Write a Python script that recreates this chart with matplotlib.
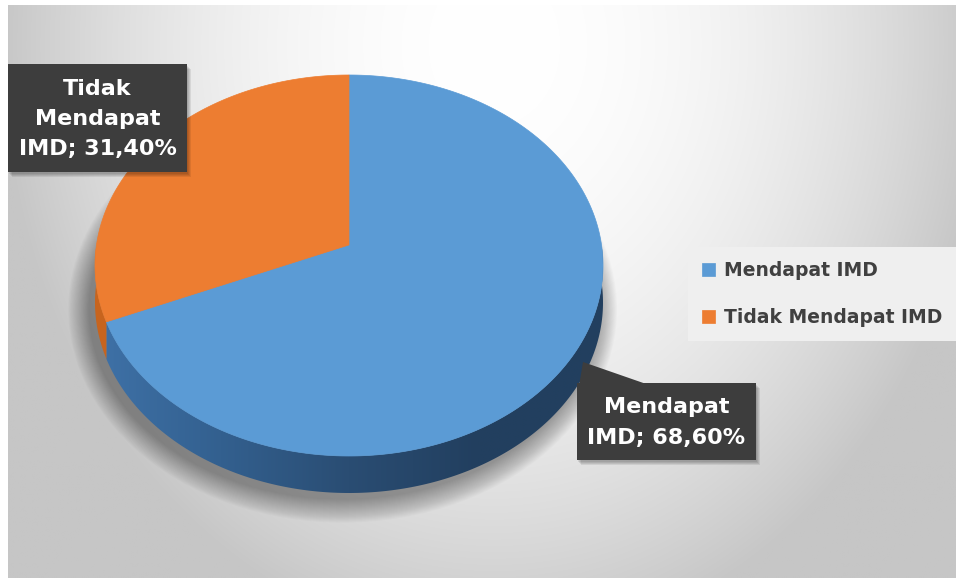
import numpy as np
import matplotlib
matplotlib.use('Agg')
import matplotlib.pyplot as plt
from matplotlib.patches import Polygon, Rectangle, Ellipse
from matplotlib.colors import LinearSegmentedColormap

# ---------------- data ----------------
categories = ['Mendapat IMD', 'Tidak Mendapat IMD']
values = [68.6, 31.4]
label_texts = ['Mendapat\nIMD; 68,60%', 'Tidak\nMendapat\nIMD; 31,40%']
top_colors = ['#5b9bd5', '#ed7d31']
side_colors = [['#3f72a8', '#33608f', '#2a4d73', '#223f5f', '#22405f'],
               ['#c8651f', '#b55a1c']]

# ---------------- figure ----------------
W, H = 956, 578
fig = plt.figure(figsize=(W / 100, H / 100), dpi=100, facecolor='white')

# background gradient
bg = fig.add_axes([0, 0, 1, 1])
yy, xx = np.mgrid[0:H, 0:W]
rr = ((xx - 490) / 490.0) ** 2 + ((yy - 40) / 600.0) ** 2
g = np.clip(255 - 55 * np.clip(rr, 0, 1.2), 198, 255) / 255
img = np.dstack([g, g, g])
bg.imshow(img, extent=[8, W, H, 5], aspect='auto', zorder=0, interpolation='bilinear')
bg.set_xlim(0, W)
bg.set_ylim(H, 0)
bg.axis('off')

# pie axes: unit ellipse mapped to pixels
cx, cy, rx, ry = 349, 265.5, 254, 190.5
xl = (-1.2, 1.2)
yl = (-1.5, 1.2)
left_px = cx + xl[0] * rx
width_px = (xl[1] - xl[0]) * rx
top_px = cy - yl[1] * ry
height_px = (yl[1] - yl[0]) * ry
ax = fig.add_axes([left_px / W, 1 - (top_px + height_px) / H, width_px / W, height_px / H])
ax.patch.set_visible(False)
d = 37 / ry

# perspective projection of the pie disc
k = 0.108
c = np.sqrt(1 - k * k)


def proj(x, y):
    x = np.asarray(x, float)
    y = np.asarray(y, float)
    den = 1 + k * y
    return c * x / den, (y + k) / den


# soft shadow
for j in range(24):
    s = 0.0035 * j
    ax.add_patch(Ellipse((-0.025, -d - 0.035), 2 * (1 + s), 2 * (1 + s * 1.5),
                         facecolor='black', edgecolor='none', alpha=0.015, zorder=1))

fracs = np.array(values) / np.sum(values)
bounds = 90 - 360 * np.concatenate([[0], np.cumsum(fracs)])

# sides (front half only)
for i in range(len(values)):
    a, b = bounds[i + 1], bounds[i]
    for shift in (0, 360, -360):
        lo = max(a + shift, -180)
        hi = min(b + shift, 0)
        if hi <= lo:
            continue
        t = np.radians(np.linspace(lo, hi, 200))
        X, Y = proj(np.cos(t), np.sin(t))
        xs = np.concatenate([X, X[::-1]])
        ys = np.concatenate([Y, Y[::-1] - d])
        poly = Polygon(np.column_stack([xs, ys]), closed=True, facecolor='none',
                       edgecolor='none', zorder=3)
        ax.add_patch(poly)
        cmap = LinearSegmentedColormap.from_list('side%d' % i, side_colors[i])
        grad = np.linspace(0, 1, 256)[None, :]
        im = ax.imshow(grad, cmap=cmap, extent=[-1.01, 1.01, -1 - d - 0.01, 0.2],
                       aspect='auto', zorder=3, interpolation='bilinear')
        im.set_clip_path(poly)

# top faces
handles = []
for i in range(len(values)):
    a, b = bounds[i + 1], bounds[i]
    t = np.radians(np.linspace(b, a, 400))
    X, Y = proj(np.concatenate([[0], np.cos(t)]), np.concatenate([[0], np.sin(t)]))
    p = Polygon(np.column_stack([X, Y]), closed=True, facecolor=top_colors[i],
                edgecolor=top_colors[i], linewidth=0.5, zorder=4)
    ax.add_patch(p)
    handles.append(p)

ax.set_xlim(*xl)
ax.set_ylim(*yl)
ax.axis('off')

# overlay for data labels
ov = fig.add_axes([0, 0, 1, 1])
ov.patch.set_visible(False)
ov.set_xlim(0, W)
ov.set_ylim(H, 0)
ov.axis('off')

box_fc = '#3d3d3d'
boxes = [(577, 383, 179, 77), (8, 64, 179, 108)]
# callout pointer for first label
ov.add_patch(Polygon([(583, 362), (579, 386), (652, 386)], closed=True,
                     facecolor=box_fc, edgecolor='none', zorder=5))
for (bx, by, bw, bh), txt in zip(boxes, label_texts):
    for j in range(4):
        ov.add_patch(Rectangle((bx + 1 + j, by + 2 + j), bw, bh, facecolor='black', alpha=0.08,
                               edgecolor='none', zorder=4))
    ov.add_patch(Rectangle((bx, by), bw, bh, facecolor=box_fc, edgecolor='none', zorder=5))
    ov.text(bx + bw / 2, by + bh / 2 + 1, txt, ha='center', va='center', color='white',
            fontsize=16, fontweight='bold', family='DejaVu Sans', linespacing=1.65, zorder=6)

# legend
fig.legend(handles, categories, loc='upper left', bbox_to_anchor=(688 / W, 1 - 247 / H),
           frameon=True, facecolor='#efefef', edgecolor='none', fancybox=False, framealpha=1,
           prop=dict(weight='bold', size=13.5, family='DejaVu Sans'), labelcolor='#404040',
           handlelength=0.7, handleheight=0.7, handletextpad=0.45, labelspacing=1.5,
           borderpad=0.75, borderaxespad=0)

fig.savefig('out.png', dpi=100, facecolor='white')
